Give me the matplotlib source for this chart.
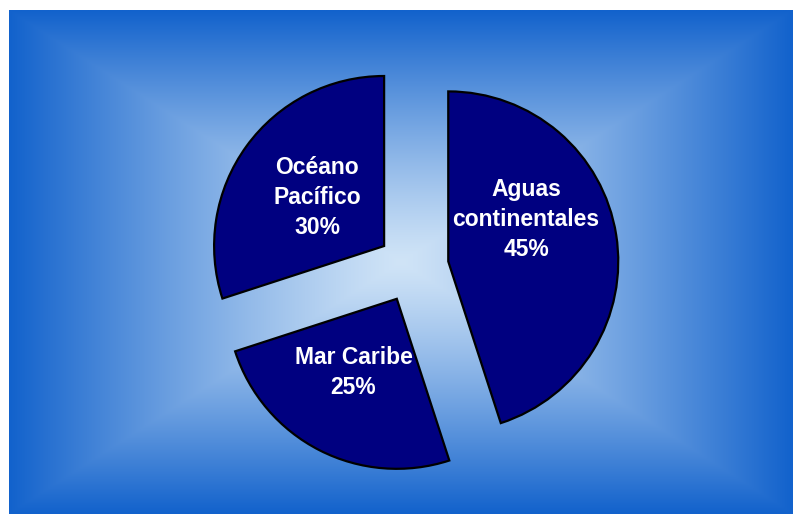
import matplotlib
matplotlib.use("Agg")
import matplotlib.pyplot as plt
import numpy as np

# data
labels = ["Aguas\ncontinentales", "Mar Caribe", "Océano\nPacífico"]
shares = [45, 25, 30]
# label anchor points (pie data units)
label_pos = [(0.665, 0.28), (-0.35, -0.62), (-0.565, 0.41)]

fig = plt.figure(figsize=(7.93, 5.14), dpi=100)
fig.patch.set_facecolor("white")

# rectangular path gradient background (light centre -> blue edges)
bg = fig.add_axes([9 / 793, 0, 1 - 9 / 793, 1 - 10 / 514])
bg.axis("off")
ny, nx = 300, 460
yy, xx = np.mgrid[-1:1:ny * 1j, -1:1:nx * 1j]
t = np.maximum(np.abs(xx), np.abs(yy))
t = t ** 1.2
c_in = np.array([208, 228, 247]) / 255
c_out = np.array([18, 98, 204]) / 255
img = c_in[None, None, :] * (1 - t[..., None]) + c_out[None, None, :] * t[..., None]
bg.imshow(img, aspect="auto", extent=[0, 1, 0, 1], interpolation="bilinear")
bg.set_xlim(0, 1)
bg.set_ylim(0, 1)

ax = fig.add_axes([0, 0, 1, 1])
ax.patch.set_alpha(0)
ax.axis("off")

wedges, _ = ax.pie(shares, startangle=90, counterclock=False, radius=1,
                   explode=[0.21] * 3, colors=["#000080"] * 3,
                   wedgeprops=dict(edgecolor="black", linewidth=1.6))

r_px = 170
cx, cy = 413, 514 - 267
ax.set_xlim(-cx / r_px, (793 - cx) / r_px)
ax.set_ylim(-cy / r_px, (514 - cy) / r_px)
ax.set_aspect("auto")

for lab, s, (x, y) in zip(labels, shares, label_pos):
    ax.text(x, y, lab + "\n" + str(s) + "%", color="white", ha="center", va="center",
            fontsize=16.5, fontweight="bold", family="Liberation Sans", linespacing=1.4)

fig.savefig("out.png", dpi=100)
